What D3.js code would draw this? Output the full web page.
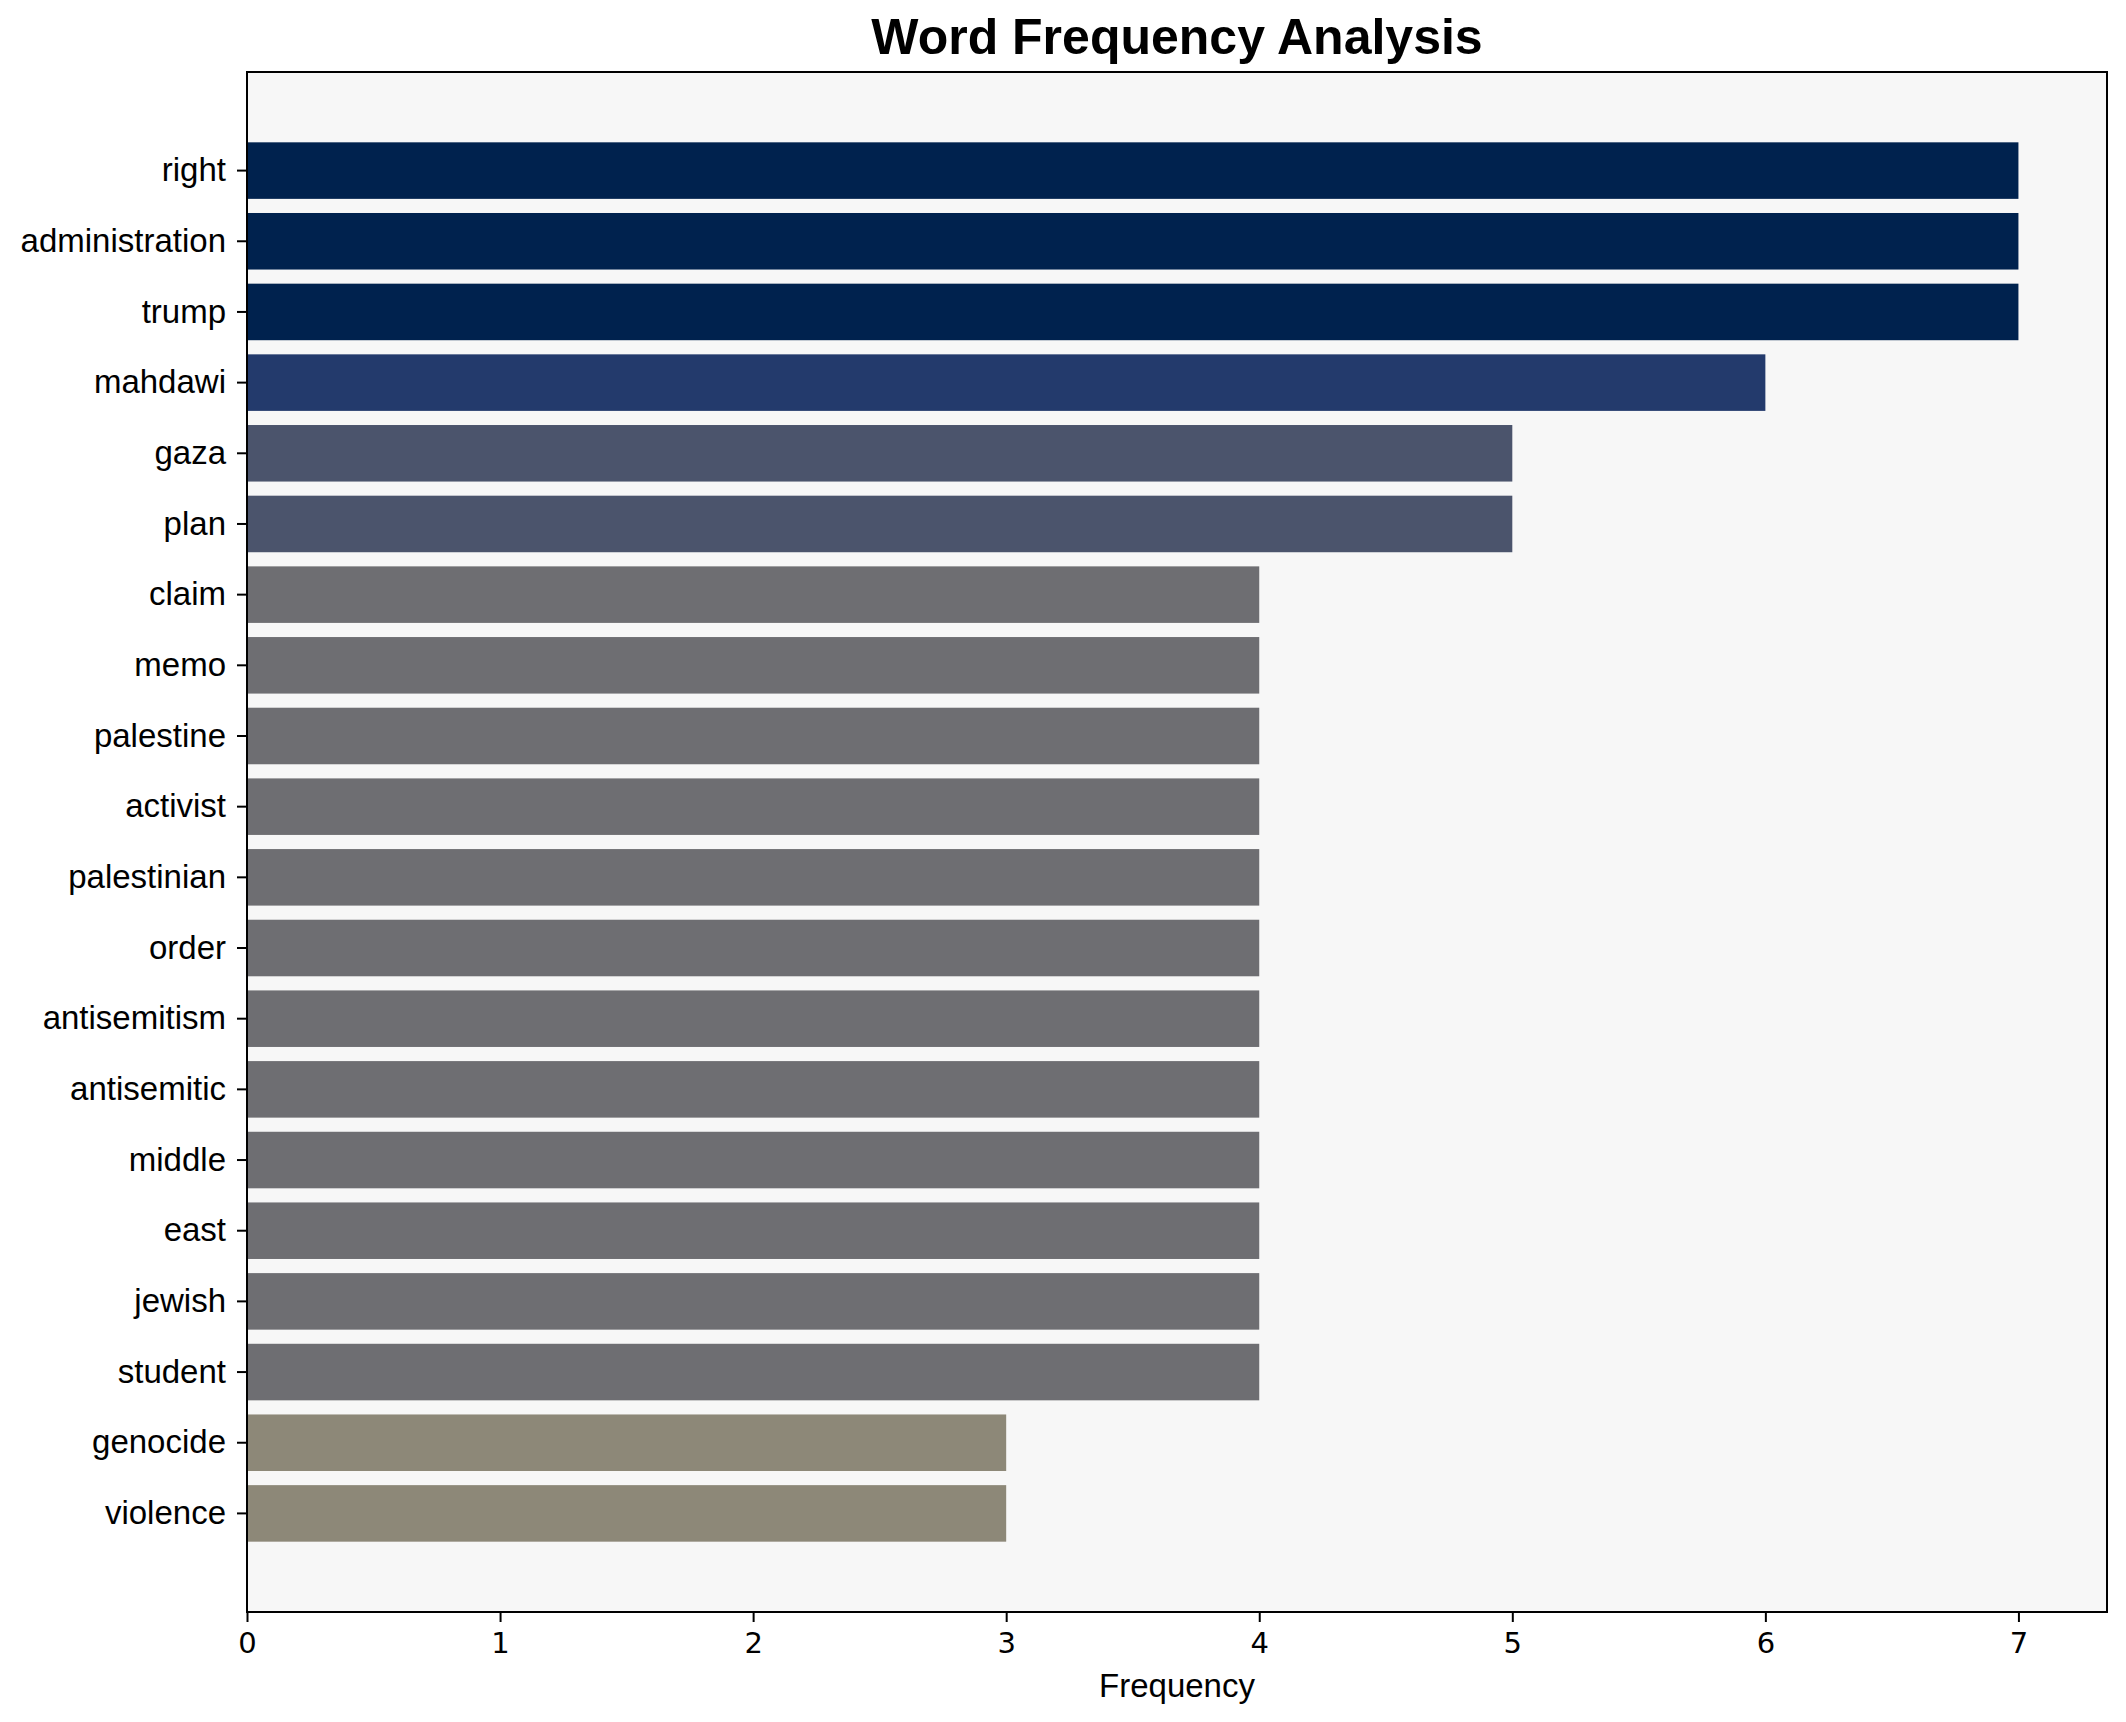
<!DOCTYPE html>
<html>
<head>
<meta charset="utf-8">
<script src="https://cdn.jsdelivr.net/npm/d3@7"></script>
<style>
  html, body { margin: 0; padding: 0; background: #ffffff; }
  svg { display: block; }
</style>
</head>
<body>
<script>
const words = ["right","administration","trump","mahdawi","gaza","plan","claim","memo","palestine","activist","palestinian","order","antisemitism","antisemitic","middle","east","jewish","student","genocide","violence"];
const frequencies = [7,7,7,6,5,5,4,4,4,4,4,4,4,4,4,4,4,4,3,3];
const xTickValues = [0,1,2,3,4,5,6,7];
const colorByValue = {7:"#00224e", 6:"#233a6c", 5:"#4b546c", 4:"#6e6e72", 3:"#8d8878"};
const titleText = "Word Frequency Analysis";
const xLabelText = "Frequency";

const W = 2126, H = 1722;
const m = {left: 247, right: W - 2107, top: 72, bottom: H - 1612};

const svg = d3.select("body").append("svg").attr("width", W).attr("height", H);

const x = d3.scaleLinear().domain([0, 7.35]).range([m.left, W - m.right]);
const y = d3.scaleBand().domain(words).range([m.top, H - m.bottom]).paddingInner(0.2).paddingOuter(0.995).align(0.5);

// plot background
svg.append("rect")
  .attr("x", m.left).attr("y", m.top)
  .attr("width", W - m.left - m.right).attr("height", H - m.top - m.bottom)
  .attr("fill", "#f7f7f7");

// bars
svg.append("g").selectAll("rect").data(words).join("rect")
  .attr("x", x(0))
  .attr("y", d => y(d))
  .attr("width", (d, i) => x(frequencies[i]) - x(0))
  .attr("height", y.bandwidth())
  .attr("fill", (d, i) => colorByValue[frequencies[i]]);

// x axis
const xAxis = svg.append("g")
  .attr("transform", `translate(0,${H - m.bottom})`)
  .call(d3.axisBottom(x).tickValues(xTickValues).tickFormat(d3.format("d")).tickSize(10).tickSizeOuter(0).tickPadding(10));
xAxis.select(".domain").remove();
xAxis.selectAll(".tick line").attr("stroke", "#000").attr("stroke-width", 2);
xAxis.selectAll(".tick text")
  .attr("font-family", "'DejaVu Sans', sans-serif")
  .attr("font-size", 29)
  .attr("fill", "#000");

// y axis
const yAxis = svg.append("g")
  .attr("transform", `translate(${m.left},0)`)
  .call(d3.axisLeft(y).tickSize(10).tickSizeOuter(0).tickPadding(11));
yAxis.select(".domain").remove();
yAxis.selectAll(".tick line").attr("stroke", "#000").attr("stroke-width", 2);
yAxis.selectAll(".tick text")
  .attr("font-family", "'Liberation Sans', Arial, sans-serif")
  .attr("font-size", 33)
  .attr("fill", "#000");

// frame
svg.append("rect")
  .attr("x", m.left).attr("y", m.top)
  .attr("width", W - m.left - m.right).attr("height", H - m.top - m.bottom)
  .attr("fill", "none").attr("stroke", "#000").attr("stroke-width", 2);

// title
svg.append("text")
  .attr("x", (m.left + W - m.right) / 2).attr("y", 54)
  .attr("text-anchor", "middle")
  .attr("font-family", "'Liberation Sans', Arial, sans-serif")
  .attr("font-weight", "bold")
  .attr("font-size", 50)
  .attr("fill", "#000")
  .text(titleText);

// x label
svg.append("text")
  .attr("x", (m.left + W - m.right) / 2).attr("y", 1697)
  .attr("text-anchor", "middle")
  .attr("font-family", "'Liberation Sans', Arial, sans-serif")
  .attr("font-size", 33)
  .attr("fill", "#000")
  .text(xLabelText);
</script>
</body>
</html>
